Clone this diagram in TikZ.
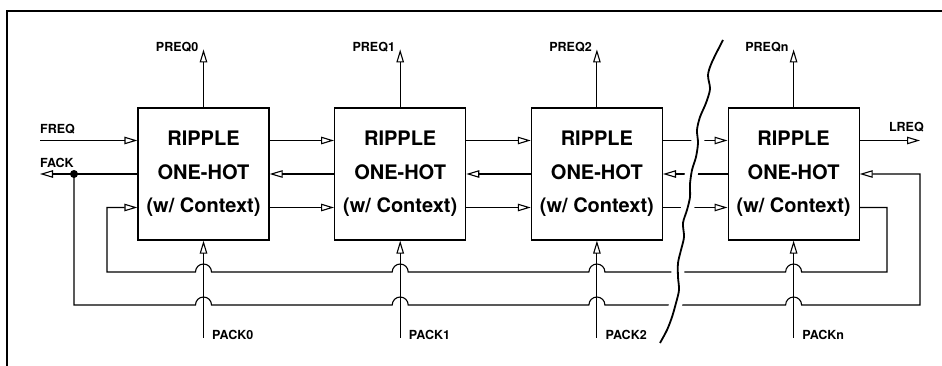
\documentclass[tikz,border=0pt]{standalone}
\usepackage{fontspec}
\setmainfont{TeX Gyre Heros}
\usetikzlibrary{arrows.meta,positioning,calc}
\tikzset{
    ripplebox/.style={rectangle,draw,line width=1.2pt,minimum width=131pt,minimum height=132pt,inner sep=0pt,align=center,font=\fontsize{20}{33.5}\selectfont\bfseries},
    siglabel/.style={font=\fontsize{12.5}{14}\selectfont\bfseries,inner sep=0pt},
    sigline/.style={-{Triangle[open,length=13pt,width=7.5pt]},line width=1.1pt},
    busline/.style={line width=1.1pt},
    frameline/.style={line width=1.4pt},
    breakline/.style={line width=1.8pt,preaction={draw,white,line width=13pt}}
}
\begin{document}
\begin{tikzpicture}[x=1pt,y=1pt,node distance=64.5pt]
    \useasboundingbox (0,0) rectangle (942,-366);
    \draw[frameline] (7,-366) -- (7,-11) -- (942,-11);
    % cells
    \node[ripplebox] (b0) at (203.5,-174) {RIPPLE\\ONE-HOT\\(w/ Context)};
    \node[ripplebox,right=of b0] (b1) {RIPPLE\\ONE-HOT\\(w/ Context)};
    \node[ripplebox,right=of b1] (b2) {RIPPLE\\ONE-HOT\\(w/ Context)};
    \node[ripplebox,right=of b2] (b3) {RIPPLE\\ONE-HOT\\(w/ Context)};
    \coordinate (freq) at (40,-140.5);
    \coordinate (fack) at (40,-174);
    \coordinate (ackdot) at (74,-174);
    \coordinate (lreq) at (920,-140.5);
    \coordinate (ackbus) at (920,-305);
    \coordinate (ctxbus) at (887,-272);
    \coordinate (ctxleft) at (107,-272);
    % chain inputs and outputs
    \draw[sigline] (freq) -- ([yshift=33.5pt]b0.west);
    \draw[sigline] (b0.west) -- (fack);
    \fill (ackdot) circle (4pt);
    \node[siglabel,above right=6pt and 0pt of freq] {FREQ};
    \node[siglabel,above right=6pt and 0pt of fack] {FACK};
    \draw[sigline] ([yshift=33.5pt]b3.east) -- (lreq);
    \node[siglabel,anchor=south east] at ([xshift=4pt,yshift=8pt]lreq) {LREQ};
    \foreach \a/\b in {b0/b1,b1/b2,b2/b3} {
        \draw[sigline] ([yshift=33.5pt]\a.east) -- ([yshift=33.5pt]\b.west);
        \draw[sigline] (\b.west) -- (\a.east);
        \draw[sigline] ([yshift=-33.5pt]\a.east) -- ([yshift=-33.5pt]\b.west);
    }
    \foreach \b/\i in {b0/0,b1/1,b2/2,b3/n} {
        \coordinate (preq\i) at ([yshift=58pt]\b.north);
        \coordinate (pack\i) at ([yshift=-97pt]\b.south);
        \draw[sigline] (\b.north) -- (preq\i);
        \draw[sigline] (pack\i) -- (\b.south);
        \node[siglabel,anchor=east] at ([xshift=-5pt,yshift=2.5pt]preq\i) {PREQ\i};
        \node[siglabel,anchor=west] at ([xshift=8.5pt,yshift=2.5pt]pack\i) {PACK\i};
    }
    % context loop and ack loop, hopping over PACK
    \draw[sigline] ([yshift=-33.5pt]b3.east) -| (ctxbus)
        \foreach \b in {b3,b2,b1,b0} { -- ($(\b.south |- ctxbus)+(8,0)$) arc[start angle=0,end angle=180,radius=8pt] }
        -- (ctxleft) |- ([yshift=-33.5pt]b0.west);
    \draw[sigline] (ackdot) -- (ackdot |- ackbus)
        \foreach \b in {b0,b1,b2,b3} { -- ($(\b.south |- ackbus)+(-8,0)$) arc[start angle=180,end angle=0,radius=8pt] }
        -- (ackbus) |- (b3.east);
    % break between cell 2 and cell n
    \draw[breakline] plot[smooth] coordinates {(723,-40) (712,-62) (708,-75) (710,-89) (706,-103) (700,-117) (697,-130) (698,-143) (696,-157) (692,-170) (690,-184) (690,-197) (687,-210) (683,-223) (684,-237) (681,-250) (678,-263) (678,-277) (679,-290) (676,-303) (672,-317) (667,-330) (660,-343)};
\end{tikzpicture}
\end{document}
